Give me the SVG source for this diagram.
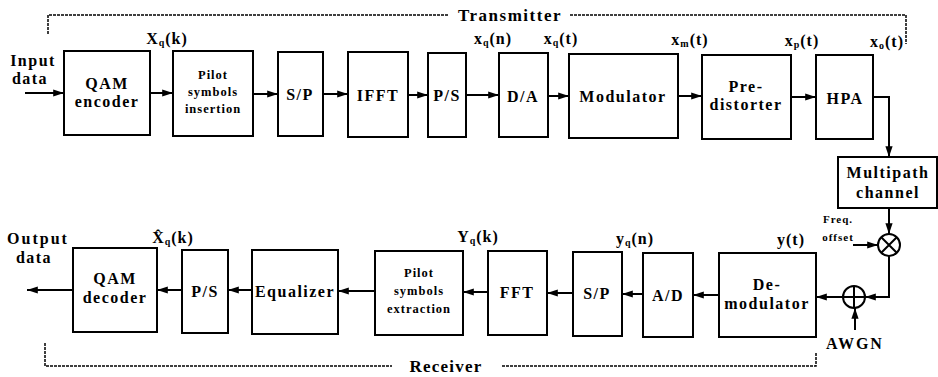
<svg xmlns="http://www.w3.org/2000/svg" width="938" height="377" viewBox="0 0 938 377">
<defs>
<marker id="ah" viewBox="0 0 12 10" refX="12" refY="5" markerWidth="12" markerHeight="9" markerUnits="userSpaceOnUse" orient="auto">
<path d="M0,1 L12,5 L0,9 z" fill="#000"/>
</marker>
</defs>
<style>
text{font-family:'Liberation Serif','DejaVu Serif','Times New Roman',serif;font-weight:bold;fill:#000;text-anchor:middle}
.box{fill:#fff;stroke:#000;stroke-width:2}
.t{font-size:16px;letter-spacing:1.5px}
.s{font-size:12.5px;letter-spacing:1px}
.l{font-size:16px;letter-spacing:1px}
.sub{font-size:10px}
.c{fill:none;stroke:#000;stroke-width:2}
.a{fill:none;stroke:#000;stroke-width:2;marker-end:url(#ah)}
.d{fill:none;stroke:#000;stroke-width:1.5;stroke-dasharray:3,1}
</style>

<g id="transmitter-frame">
<path class="d" d="M48,34 V15 H448 M570,15 H906 V44"/>
<text class="t" x="510" y="21" style="font-size:17px">Transmitter</text>
</g>
<g id="receiver-frame">
<path class="d" d="M45,343 V366 H392 M502,366 H816 V352"/>
<text class="t" x="446" y="372" style="font-size:17px;letter-spacing:1.2px">Receiver</text>
</g>

<g id="connectors">
<path class="a" d="M25,93 H64"/>
<path class="a" d="M150,93 H173"/>
<path class="a" d="M253,94 H278"/>
<path class="a" d="M323,94 H348"/>
<path class="a" d="M408,95 H428"/>
<path class="a" d="M466,95 H499"/>
<path class="a" d="M548,96 H569"/>
<path class="a" d="M678,96 H702"/>
<path class="a" d="M791,97 H816"/>
<path class="a" d="M873,97 H889 V157"/>
<path class="a" d="M889,208 V234"/>
<path class="a" d="M853,245 H878"/>
<path class="c" d="M889,256 V297 H876"/>
<path class="a" d="M877,297 H865"/>
<path class="a" d="M855,330 V308"/>
<path class="a" d="M843,297 H816"/>
<path class="a" d="M719,295 H693"/>
<path class="a" d="M643,294 H622"/>
<path class="a" d="M573,293 H547"/>
<path class="a" d="M488,292 H463"/>
<path class="a" d="M375,291 H338"/>
<path class="a" d="M252,290 H228"/>
<path class="a" d="M182,290 H157"/>
<path class="a" d="M73,290 H27"/>
</g>

<g id="input-label">
<text class="l" x="33" y="66" style="letter-spacing:1.5px">Input</text>
<text class="l" x="30" y="84" style="letter-spacing:1.5px">data</text>
</g>
<g id="output-label">
<text class="l" x="38" y="244" style="letter-spacing:2px">Output</text>
<text class="l" x="34" y="263" style="letter-spacing:1.5px">data</text>
</g>

<g id="qam-encoder">
<rect class="box" x="64" y="51" width="86" height="84"/>
<text class="t" x="107" y="89">QAM</text>
<text class="t" x="107" y="107">encoder</text>
</g>
<g id="pilot-insertion">
<rect class="box" x="173" y="51" width="80" height="85"/>
<text class="s" x="213" y="79">Pilot</text>
<text class="s" x="213" y="96">symbols</text>
<text class="s" x="213" y="113">insertion</text>
</g>
<g id="sp-tx">
<rect class="box" x="278" y="52" width="45" height="84"/>
<text class="t" x="300" y="100">S/P</text>
</g>
<g id="ifft">
<rect class="box" x="348" y="52" width="60" height="85"/>
<text class="t" x="378" y="101">IFFT</text>
</g>
<g id="ps-tx">
<rect class="box" x="428" y="53" width="38" height="84"/>
<text class="t" x="447" y="101">P/S</text>
</g>
<g id="da">
<rect class="box" x="499" y="53" width="49" height="84"/>
<text class="t" x="523" y="102">D/A</text>
</g>
<g id="modulator">
<rect class="box" x="569" y="54" width="109" height="84"/>
<text class="t" x="623" y="102">Modulator</text>
</g>
<g id="predistorter">
<rect class="box" x="702" y="55" width="89" height="84"/>
<text class="t" x="746" y="92">Pre-</text>
<text class="t" x="746" y="110">distorter</text>
</g>
<g id="hpa">
<rect class="box" x="816" y="55" width="57" height="84"/>
<text class="t" x="845" y="104">HPA</text>
</g>
<g id="multipath">
<rect class="box" x="838" y="157" width="99" height="51"/>
<text class="t" x="888" y="178">Multipath</text>
<text class="t" x="888" y="198">channel</text>
</g>
<g id="mixer">
<circle cx="889" cy="245" r="11" fill="#fff" stroke="#000" stroke-width="2"/>
<path d="M881,237 L897,253 M897,237 L881,253" stroke="#000" stroke-width="2"/>
<text class="s" x="838" y="223" style="font-size:11px">Freq.</text>
<text class="s" x="838" y="241" style="font-size:11px">offset</text>
</g>
<g id="adder">
<circle cx="854" cy="297" r="11" fill="#fff" stroke="#000" stroke-width="2"/>
<path d="M843,297 H865 M854,286 V308" stroke="#000" stroke-width="2"/>
<text class="t" x="855" y="349" style="letter-spacing:2px">AWGN</text>
</g>
<g id="demodulator">
<rect class="box" x="719" y="253" width="97" height="84"/>
<text class="t" x="767" y="290">De-</text>
<text class="t" x="767" y="309">modulator</text>
</g>
<g id="ad">
<rect class="box" x="643" y="253" width="50" height="84"/>
<text class="t" x="668" y="301">A/D</text>
</g>
<g id="sp-rx">
<rect class="box" x="573" y="252" width="49" height="84"/>
<text class="t" x="597" y="299">S/P</text>
</g>
<g id="fft">
<rect class="box" x="488" y="251" width="59" height="84"/>
<text class="t" x="517" y="298">FFT</text>
</g>
<g id="pilot-extraction">
<rect class="box" x="375" y="251" width="88" height="84"/>
<text class="s" x="419" y="277">Pilot</text>
<text class="s" x="419" y="295">symbols</text>
<text class="s" x="419" y="313">extraction</text>
</g>
<g id="equalizer">
<rect class="box" x="252" y="250" width="86" height="84"/>
<text class="t" x="295" y="297">Equalizer</text>
</g>
<g id="ps-rx">
<rect class="box" x="182" y="250" width="46" height="83"/>
<text class="t" x="205" y="297">P/S</text>
</g>
<g id="qam-decoder">
<rect class="box" x="73" y="248" width="84" height="84"/>
<text class="t" x="115" y="284">QAM</text>
<text class="t" x="115" y="303">decoder</text>
</g>

<g id="signal-labels">
<text class="l" x="167" y="44">X<tspan class="sub" dy="2">q</tspan><tspan dy="-2">(k)</tspan></text>
<text class="l" x="493" y="44">x<tspan class="sub" dy="2">q</tspan><tspan dy="-2">(n)</tspan></text>
<text class="l" x="561" y="44">x<tspan class="sub" dy="2">q</tspan><tspan dy="-2">(t)</tspan></text>
<text class="l" x="690" y="45">x<tspan class="sub" dy="2">m</tspan><tspan dy="-2">(t)</tspan></text>
<text class="l" x="802" y="46">x<tspan class="sub" dy="2">p</tspan><tspan dy="-2">(t)</tspan></text>
<text class="l" x="887" y="47">x<tspan class="sub" dy="2">o</tspan><tspan dy="-2">(t)</tspan></text>
<text class="l" x="173" y="243">X&#x302;<tspan class="sub" dy="2">q</tspan><tspan dy="-2">(k)</tspan></text>
<text class="l" x="478" y="242">Y<tspan class="sub" dy="2">q</tspan><tspan dy="-2">(k)</tspan></text>
<text class="l" x="635" y="244">y<tspan class="sub" dy="2">q</tspan><tspan dy="-2">(n)</tspan></text>
<text class="l" x="791" y="245">y(t)</text>
</g>
</svg>
